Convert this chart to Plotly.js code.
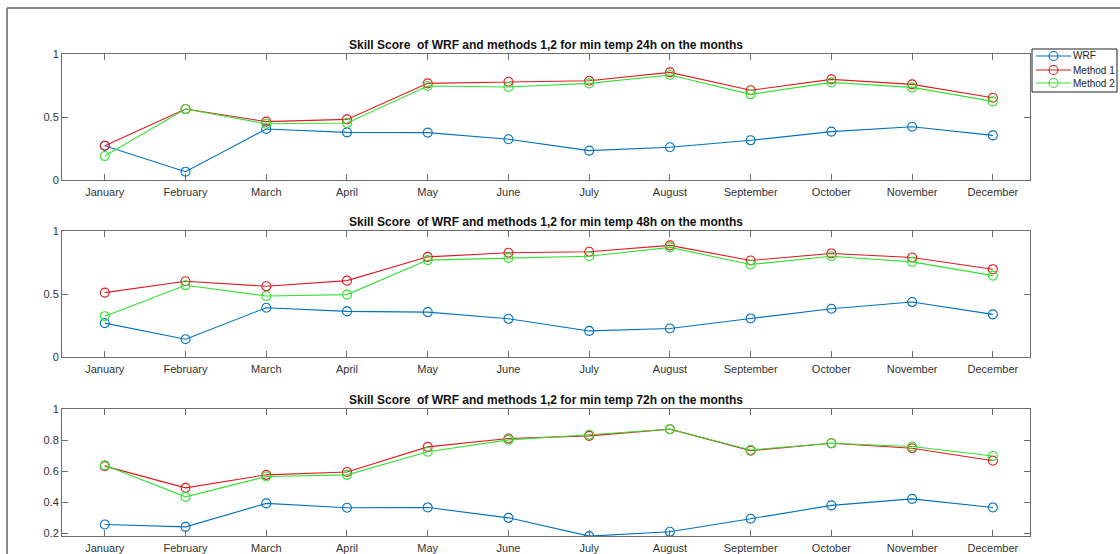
<!DOCTYPE html>
<html>
<head>
<meta charset="utf-8">
<script src="https://cdn.plot.ly/plotly-3.0.1.min.js"></script>
<style>html,body{margin:0;padding:0;background:#fff;}#chart{width:1120px;height:554px;}</style>
</head>
<body>
<div id="chart"></div>
<script>
const months = ["January","February","March","April","May","June","July","August","September","October","November","December"];
const seriesNames = ["WRF","Method 1","Method 2"];
const titles = [
  "Skill Score  of WRF and methods 1,2 for min temp 24h on the months",
  "Skill Score  of WRF and methods 1,2 for min temp 48h on the months",
  "Skill Score  of WRF and methods 1,2 for min temp 72h on the months"
];
// 24h
const wrf24 = [0.272,0.066,0.405,0.378,0.376,0.323,0.233,0.260,0.315,0.384,0.423,0.354];
const m1_24 = [0.272,0.563,0.463,0.481,0.767,0.780,0.788,0.854,0.712,0.799,0.759,0.653];
const m2_24 = [0.190,0.563,0.447,0.452,0.746,0.738,0.767,0.833,0.680,0.775,0.735,0.624];
// 48h
const wrf48 = [0.269,0.141,0.391,0.362,0.356,0.303,0.207,0.226,0.306,0.383,0.436,0.338];
const m1_48 = [0.511,0.601,0.561,0.606,0.795,0.827,0.835,0.886,0.766,0.822,0.790,0.697];
const m2_48 = [0.324,0.569,0.484,0.495,0.769,0.787,0.800,0.870,0.734,0.800,0.755,0.646];
// 72h
const wrf72 = [0.256,0.241,0.392,0.364,0.366,0.299,0.181,0.209,0.293,0.379,0.421,0.366];
const m1_72 = [0.632,0.492,0.576,0.594,0.756,0.810,0.827,0.870,0.732,0.779,0.747,0.667];
const m2_72 = [0.637,0.434,0.565,0.576,0.725,0.801,0.834,0.870,0.736,0.779,0.758,0.697];
const yTicks12 = [0,0.5,1];
const yTickText12 = ["0","0.5","1"];
const yTicks3 = [0.2,0.4,0.6,0.8,1];
const yTickText3 = ["0.2","0.4","0.6","0.8","1"];

const colors = ["#0072BD","#E01A22","#33E133"];
const panels = [[wrf24,m1_24,m2_24],[wrf48,m1_48,m2_48],[wrf72,m1_72,m2_72]];
const W = 1120, H = 554;
const px = v => v / W, py = v => 1 - v / H;
const xIdx = months.map((m,i)=>i);

const traces = [];
panels.forEach((p, k) => {
  p.forEach((vals, s) => {
    traces.push({
      x: xIdx, y: vals, type: "scatter", mode: "lines+markers",
      name: seriesNames[s], showlegend: false,
      xaxis: k === 0 ? "x" : "x" + (k+1), yaxis: k === 0 ? "y" : "y" + (k+1),
      line: {color: colors[s], width: 1.1},
      marker: {symbol: "circle-open", size: 9, color: colors[s], line: {width: 1.1, color: colors[s]}},
      cliponaxis: true
    });
  });
});

const axisColor = "#6e6e6e";
const fontFam = "Liberation Sans, Arial, sans-serif";
const tickFont = {family: fontFam, size: 11, color: "#333"};
const yDomains = [[py(180), py(54)], [py(357), py(231)], [py(536), py(409)]];
const layout = {
  width: W, height: H,
  margin: {l: 0, r: 0, t: 0, b: 0},
  paper_bgcolor: "#fff", plot_bgcolor: "#fff",
  showlegend: false,
  annotations: [],
  shapes: [
    {type: "line", xref: "paper", yref: "paper", x0: px(7), x1: px(7), y0: 0, y1: py(8), line: {color: "#8a8a8a", width: 2}},
    {type: "line", xref: "paper", yref: "paper", x0: px(7), x1: 1, y0: py(8), y1: py(8), line: {color: "#8a8a8a", width: 2}},
    // legend box
    {type: "rect", xref: "paper", yref: "paper", x0: px(1032), x1: px(1117), y0: py(92), y1: py(49),
     line: {color: "#222", width: 1}, fillcolor: "#fff"}
  ]
};
// legend entries
const legY = [56, 70, 83];
seriesNames.forEach((name, s) => {
  layout.shapes.push({type: "line", xref: "paper", yref: "paper", x0: px(1036), x1: px(1071), y0: py(legY[s]), y1: py(legY[s]),
    line: {color: colors[s], width: 1.1}});
  layout.shapes.push({type: "circle", xref: "paper", yref: "paper", xsizemode: "pixel", ysizemode: "pixel",
    xanchor: px(1053.5), yanchor: py(legY[s]), x0: -4.5, x1: 4.5, y0: -4.5, y1: 4.5,
    line: {color: colors[s], width: 1.1}, fillcolor: "rgba(0,0,0,0)"});
  layout.annotations.push({text: name, xref: "paper", yref: "paper", x: px(1071), y: py(legY[s]),
    xanchor: "left", yanchor: "middle", showarrow: false, font: {family: fontFam, size: 10, color: "#222"}});
});
const titleY = [45, 222, 400];
for (let k = 0; k < 3; k++) {
  const xa = k === 0 ? "xaxis" : "xaxis" + (k+1);
  const ya = k === 0 ? "yaxis" : "yaxis" + (k+1);
  layout[xa] = {
    domain: [px(62), px(1030)], anchor: k === 0 ? "y" : "y" + (k+1),
    range: [-0.53, 11.46], tickmode: "array", tickvals: xIdx, ticktext: months,
    ticks: "inside", ticklen: 6, tickcolor: axisColor, tickwidth: 1,
    showline: true, linecolor: axisColor, linewidth: 1, mirror: "ticks",
    showgrid: false, zeroline: false, tickfont: tickFont, fixedrange: true,
    ticklabelstandoff: 2
  };
  layout[ya] = {
    domain: yDomains[k], anchor: k === 0 ? "x" : "x" + (k+1),
    range: k === 2 ? [0.182, 1] : [0, 1],
    tickmode: "array", tickvals: k === 2 ? yTicks3 : yTicks12, ticktext: k === 2 ? yTickText3 : yTickText12,
    ticks: "inside", ticklen: 6, tickcolor: axisColor, tickwidth: 1,
    showline: true, linecolor: axisColor, linewidth: 1, mirror: "ticks",
    showgrid: false, zeroline: false, tickfont: tickFont, fixedrange: true
  };
  layout.annotations.push({
    text: "<b>" + titles[k] + "</b>", xref: "paper", yref: "paper",
    x: px(546), y: py(titleY[k]), xanchor: "center", yanchor: "middle", showarrow: false,
    font: {family: fontFam, size: 12, color: "#111"}
  });
}
Plotly.newPlot("chart", traces, layout, {displayModeBar: false, staticPlot: true});
</script>
</body>
</html>
